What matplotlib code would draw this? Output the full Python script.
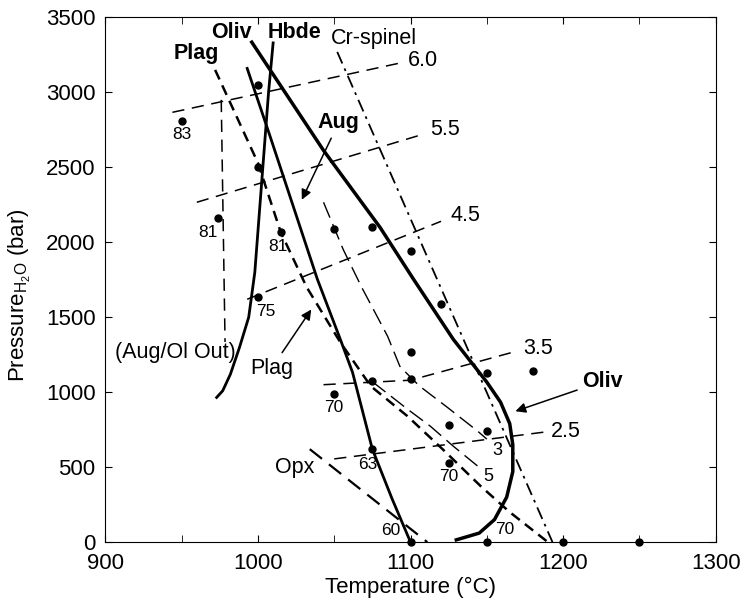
"""Phase relations vs temperature and water pressure (redrawn)."""
import matplotlib
matplotlib.use('Agg')
import matplotlib.pyplot as plt

plt.rcParams['font.family'] = ['Liberation Sans', 'DejaVu Sans']

# phase boundaries (T in deg C, P in bar)
oliv_T = [996, 1043, 1080, 1102, 1128, 1150, 1159, 1165, 1167, 1167, 1163, 1155, 1145, 1130]
oliv_P = [3335, 2613, 2100, 1753, 1353, 1067, 933, 790, 650, 470, 300, 150, 60, 15]

hbde_T = [1010, 1007, 1004, 1001, 998, 994, 988, 982, 977, 973]
hbde_P = [3330, 3000, 2600, 2200, 1800, 1500, 1300, 1120, 1010, 965]

aug_T = [993, 1008, 1039, 1054, 1062, 1075, 1088, 1100]
aug_P = [3160, 2707, 1753, 1353, 1133, 620, 287, 0]

plag_T = [972, 1000, 1015, 1032, 1054, 1074, 1098, 1121, 1146, 1165, 1190]
plag_P = [3150, 2530, 2067, 1700, 1333, 1040, 840, 620, 373, 200, 0]

crsp_T = [1052, 1193]
crsp_P = [3270, 0]

opx_T = [1034, 1111]
opx_P = [620, 0]

out_T = [976, 978.5]
out_P = [2950, 1335]

# crystallinity contours
c3_T = [1043, 1056, 1068, 1085, 1093, 1100, 1106, 1124, 1144, 1150]
c3_P = [2267, 1950, 1700, 1373, 1173, 1100, 1040, 900, 740, 687]
c5_T = [1075, 1098, 1113, 1128, 1144]
c5_P = [1070, 887, 773, 640, 507]

# water isopleths (wt% H2O)
iso_labels = ['6.0', '5.5', '4.5', '3.5', '2.5']
iso_T = [[944, 1095], [960, 1108], [993, 1120], [1043, 1100, 1170], [1050, 1187]]
iso_P = [[2867, 3200], [2267, 2720], [1620, 2140], [1050, 1080, 1275], [555, 733]]
iso_lab_T = [1098, 1113, 1126, 1174, 1192]
iso_lab_P = [3215, 2750, 2180, 1290, 735]

# experiments
exp_T = [950, 974, 1000, 1000, 1015, 1050, 1075, 1100, 1000, 1120, 1100, 1150, 1180,
         1100, 1075, 1050, 1125, 1150, 1075, 1125, 1100, 1150, 1200, 1250]
exp_P = [2810, 2160, 3050, 2505, 2070, 2090, 2105, 1940, 1635, 1590, 1270, 1125, 1140,
         1090, 1075, 990, 780, 740, 620, 530, 0, 0, 0, 0]
exp_lab = ['83', '81', '81', '75', '70', '63', '70', '60', '70']
exp_lab_T = [950, 967, 1013, 1005, 1050, 1072, 1125, 1087, 1162]
exp_lab_P = [2720, 2067, 1975, 1540, 900, 520, 440, 80, 85]

fig = plt.figure(figsize=(7.41, 6.01), dpi=100)
ax = fig.add_axes([0.142, 0.098, 0.824, 0.873])

k = 'black'
ax.plot(oliv_T, oliv_P, color=k, lw=2.5)
ax.plot(hbde_T, hbde_P, color=k, lw=2.0)
ax.plot(aug_T, aug_P, color=k, lw=2.0)
ax.plot(plag_T, plag_P, color=k, lw=1.8, linestyle=(0, (4.2, 2.6)))
ax.plot(crsp_T, crsp_P, color=k, lw=1.3, linestyle=(0, (7, 3, 1.5, 3)))
ax.plot(opx_T, opx_P, color=k, lw=1.6, linestyle=(0, (7, 4)))
ax.plot(out_T, out_P, color=k, lw=1.1, linestyle=(0, (8, 5)))
ax.plot(c3_T, c3_P, color=k, lw=1.0, linestyle=(0, (12, 5)))
ax.plot(c5_T, c5_P, color=k, lw=1.0, linestyle=(0, (12, 5)))

for xs, ys, lab, lx, ly in zip(iso_T, iso_P, iso_labels, iso_lab_T, iso_lab_P):
    ax.plot(xs, ys, color=k, lw=1.1, linestyle=(0, (8, 5)))
    ax.text(lx, ly, lab, fontsize=15.5, ha='left', va='center')

ax.plot(exp_T, exp_P, 'o', color=k, markersize=5, clip_on=False, zorder=5)
for lab, lx, ly in zip(exp_lab, exp_lab_T, exp_lab_P):
    ax.text(lx, ly, lab, fontsize=12.5, ha='center', va='center')

ax.text(1157, 613, '3', fontsize=13, ha='center', va='center')
ax.text(1151, 440, '5', fontsize=13, ha='center', va='center')

# phase names
ax.text(983, 3400, 'Oliv', fontsize=15.5, fontweight='bold', ha='center', va='center')
ax.text(1024, 3400, 'Hbde', fontsize=15.5, fontweight='bold', ha='center', va='center')
ax.text(1076, 3360, 'Cr-spinel', fontsize=15.5, ha='center', va='center')
ax.text(960, 3260, 'Plag', fontsize=15.5, fontweight='bold', ha='center', va='center')
ax.text(946, 1267, '(Aug/Ol Out)', fontsize=15.5, ha='center', va='center')
ax.text(1024, 500, 'Opx', fontsize=15.5, ha='center', va='center')

arrow = dict(arrowstyle='-|>', color=k, lw=1.1, mutation_scale=15)
ax.annotate('Aug', xy=(1028, 2267), xytext=(1053, 2800), fontsize=15.5,
            fontweight='bold', ha='center', va='center', arrowprops=arrow)
ax.annotate('Plag', xy=(1036, 1567), xytext=(1009, 1160), fontsize=15.5,
            ha='center', va='center', arrowprops=arrow)
ax.annotate('Oliv', xy=(1167, 867), xytext=(1226, 1073), fontsize=15.5,
            fontweight='bold', ha='center', va='center', arrowprops=arrow)

ax.set_xlim(900, 1300)
ax.set_ylim(0, 3500)
ax.set_xticks([900, 1000, 1100, 1200, 1300])
ax.set_xticks([950, 1050, 1150, 1250], minor=True)
ax.set_yticks(range(0, 3501, 500))
ax.tick_params(direction='in', top=True, right=True, labelsize=16, length=5)
ax.tick_params(axis='x', pad=8)
ax.tick_params(axis='y', pad=7)
ax.tick_params(which='minor', direction='in', top=True, length=5)
ax.set_xlabel('Temperature (°C)', fontsize=16, labelpad=2)
ax.set_ylabel('Pressure$_{\\mathregular{H_2O}}$ (bar)', fontsize=16)
ax.yaxis.set_label_coords(-0.118, 0.47)

plt.savefig('out.png', dpi=100)
